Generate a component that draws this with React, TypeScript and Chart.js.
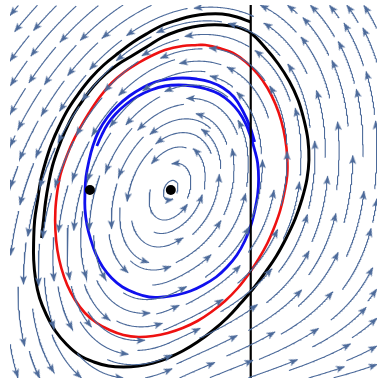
import React, { useEffect, useRef } from "react";
import { Chart, registerables } from "chart.js";

Chart.register(...registerables);

// plot window (data units)
const X_MIN = -1.63;
const X_MAX = 2.09;
const Y_MIN = -1.88;
const Y_MAX = 1.85;
const SWITCH_X = 0.81;

// vector field coefficients: x' = A_U x + A_V y + A_R2 (x^2+y^2), y' = B_U x + B_V y + B_UV max(x,0) min(y,0)
const A_U = 0.41;
const A_V = -1.0;
const A_R2 = -0.1;
const B_U = 1.75;
const B_V = -0.385;
const B_UV = 1.0;

// highlighted trajectories
const BLACK_X = [0.81, 0.67, 0.52, 0.37, 0.22, 0.07, -0.08, -0.23, -0.38, -0.53, -0.68, -0.81, -0.93, -1.04, -1.13, -1.21, -1.27, -1.32, -1.35, -1.38, -1.39, -1.39, -1.37, -1.33, -1.26, -1.17, -1.06, -0.93, -0.78, -0.63, -0.48, -0.33, -0.18, -0.03, 0.12, 0.27, 0.42, 0.57, 0.71, 0.84, 0.96, 1.07, 1.17, 1.26, 1.33, 1.38, 1.40, 1.39, 1.35, 1.29, 1.20, 1.09, 0.96, 0.81, 0.67, 0.52, 0.37, 0.22, 0.07, -0.08, -0.23, -0.38, -0.53, -0.66, -0.78, -0.89, -0.99, -1.07, -1.14, -1.20, -1.24, -1.27, -1.29, -1.31];
const BLACK_Y = [1.68, 1.73, 1.76, 1.76, 1.74, 1.70, 1.65, 1.57, 1.48, 1.37, 1.25, 1.12, 0.97, 0.81, 0.64, 0.46, 0.28, 0.09, -0.10, -0.30, -0.50, -0.70, -0.90, -1.08, -1.25, -1.41, -1.54, -1.65, -1.72, -1.76, -1.77, -1.76, -1.73, -1.68, -1.61, -1.52, -1.41, -1.28, -1.13, -0.98, -0.82, -0.66, -0.48, -0.29, -0.09, 0.11, 0.30, 0.50, 0.70, 0.90, 1.09, 1.26, 1.42, 1.57, 1.63, 1.65, 1.65, 1.63, 1.59, 1.53, 1.44, 1.35, 1.26, 1.16, 1.04, 0.90, 0.75, 0.59, 0.42, 0.24, 0.06, -0.12, -0.30, -0.48];

const RED_X = [0.27, 0.12, -0.06, -0.20, -0.33, -0.47, -0.60, -0.72, -0.83, -0.92, -1.00, -1.07, -1.12, -1.15, -1.17, -1.17, -1.15, -1.11, -1.05, -0.97, -0.87, -0.75, -0.62, -0.48, -0.33, -0.18, -0.03, 0.12, 0.27, 0.41, 0.55, 0.68, 0.79, 0.89, 0.98, 1.05, 1.11, 1.15, 1.18, 1.18, 1.16, 1.12, 1.06, 0.98, 0.88, 0.76, 0.63, 0.49, 0.35, 0.27];
const RED_Y = [1.45, 1.44, 1.40, 1.34, 1.27, 1.18, 1.07, 0.93, 0.77, 0.62, 0.47, 0.30, 0.15, -0.01, -0.20, -0.40, -0.60, -0.78, -0.95, -1.10, -1.23, -1.33, -1.40, -1.45, -1.47, -1.46, -1.43, -1.38, -1.31, -1.22, -1.11, -0.98, -0.84, -0.69, -0.53, -0.37, -0.20, -0.03, 0.15, 0.33, 0.51, 0.69, 0.86, 1.02, 1.16, 1.28, 1.37, 1.42, 1.45, 1.45];

const BLUE_X = [0.85, 0.80, 0.73, 0.64, 0.53, 0.40, 0.26, 0.12, -0.02, -0.16, -0.29, -0.42, -0.54, -0.64, -0.73, -0.79, -0.83, -0.86, -0.87, -0.87, -0.85, -0.81, -0.76, -0.69, -0.60, -0.49, -0.36, -0.22, -0.08, 0.06, 0.20, 0.33, 0.46, 0.57, 0.67, 0.75, 0.81, 0.85, 0.88, 0.89, 0.88, 0.85, 0.81, 0.76, 0.69, 0.60, 0.49, 0.36, 0.22, 0.08, -0.06, -0.20, -0.33, -0.45, -0.56, -0.64, -0.70, -0.75];
const BLUE_Y = [0.48, 0.64, 0.79, 0.93, 1.02, 1.08, 1.11, 1.12, 1.11, 1.08, 1.02, 0.94, 0.84, 0.73, 0.59, 0.44, 0.29, 0.13, -0.03, -0.19, -0.35, -0.50, -0.64, -0.77, -0.88, -0.97, -1.03, -1.07, -1.07, -1.05, -1.01, -0.95, -0.87, -0.77, -0.65, -0.51, -0.36, -0.21, -0.05, 0.11, 0.27, 0.40, 0.53, 0.66, 0.78, 0.88, 0.96, 1.01, 1.04, 1.05, 1.04, 1.00, 0.94, 0.86, 0.76, 0.66, 0.55, 0.44];

const DOT_X = [-0.82, 0.0];
const DOT_Y = [0.0, 0.0];

// stream layout settings
const STREAM_SEP = 0.14;
const STREAM_TEST = 0.06;
const STREAM_STEP = 0.01;
const STREAM_HALF_LEN = 0.34;
const STREAM_COLOR = "#4c6a9a";

function field(u: number, v: number): [number, number] {
  const p = A_U * u + A_V * v + A_R2 * (u * u + v * v);
  const q = B_U * u + B_V * v + B_UV * Math.max(u, 0) * Math.min(v, 0);
  return [p, q];
}

function dir(u: number, v: number): [number, number] | null {
  const [p, q] = field(u, v);
  const m = Math.hypot(p, q);
  if (m < 1e-5) return null;
  return [p / m, q / m];
}

function buildStreams() {
  const cell = STREAM_SEP;
  const grid = new Map<string, number[][]>();
  const ci = (x: number) => Math.floor((x - X_MIN) / cell);
  const cj = (y: number) => Math.floor((y - Y_MIN) / cell);
  const add = (x: number, y: number) => {
    const k = ci(x) + "," + cj(y);
    let a = grid.get(k);
    if (!a) {
      a = [];
      grid.set(k, a);
    }
    a.push([x, y]);
  };
  const near = (x: number, y: number, d: number) => {
    const i0 = ci(x), j0 = cj(y);
    for (let di = -1; di <= 1; di++)
      for (let dj = -1; dj <= 1; dj++) {
        const a = grid.get(i0 + di + "," + (j0 + dj));
        if (!a) continue;
        for (const p of a) {
          const dx = p[0] - x, dy = p[1] - y;
          if (dx * dx + dy * dy < d * d) return true;
        }
      }
    return false;
  };
  const inside = (x: number, y: number) => x >= X_MIN && x <= X_MAX && y >= Y_MIN && y <= Y_MAX;

  const trace = (x0: number, y0: number, sign: number, other: number[][]) => {
    const pts: number[][] = [];
    let x = x0, y = y0;
    const steps = Math.round(STREAM_HALF_LEN / STREAM_STEP);
    const t2 = STREAM_TEST * STREAM_TEST;
    for (let s = 0; s < steps; s++) {
      const d1 = dir(x, y);
      if (!d1) break;
      const d2 = dir(x + sign * d1[0] * STREAM_STEP * 0.5, y + sign * d1[1] * STREAM_STEP * 0.5);
      if (!d2) break;
      const nx = x + sign * d2[0] * STREAM_STEP;
      const ny = y + sign * d2[1] * STREAM_STEP;
      if (!inside(nx, ny)) break;
      if (near(nx, ny, STREAM_TEST)) break;
      let hit = false;
      for (let k = 0; k < pts.length - 20 && !hit; k++) {
        const dx = pts[k][0] - nx, dy = pts[k][1] - ny;
        if (dx * dx + dy * dy < t2) hit = true;
      }
      for (let k = 0; k < other.length && !hit; k++) {
        if (k + s < 20) continue;
        const dx = other[k][0] - nx, dy = other[k][1] - ny;
        if (dx * dx + dy * dy < t2) hit = true;
      }
      if (hit) break;
      pts.push([nx, ny]);
      x = nx;
      y = ny;
    }
    return pts;
  };

  const lines: number[][][] = [];
  const queue: number[][] = [[-1.2, 1.6]];
  const fallback: number[][] = [];
  for (let y = Y_MAX - 0.03; y > Y_MIN; y -= 0.07)
    for (let x = X_MIN + 0.03; x < X_MAX; x += 0.07) fallback.push([x, y]);
  let fi = 0;
  let guard = 0;
  while (guard++ < 20000) {
    let seed: number[] | undefined;
    if (queue.length) seed = queue.shift();
    else if (fi < fallback.length) seed = fallback[fi++];
    else break;
    if (!seed) break;
    const [sx, sy] = seed;
    if (!inside(sx, sy)) continue;
    if (near(sx, sy, STREAM_SEP * 0.98)) continue;
    const back = trace(sx, sy, -1, []);
    const fwd = trace(sx, sy, 1, back);
    const line = back.slice().reverse().concat([[sx, sy]], fwd);
    if (line.length < 6) continue;
    for (const p of line) add(p[0], p[1]);
    lines.push(line);
    for (let k = 2; k < line.length; k += 6) {
      const d = dir(line[k][0], line[k][1]);
      if (!d) continue;
      queue.push([line[k][0] - d[1] * STREAM_SEP, line[k][1] + d[0] * STREAM_SEP]);
      queue.push([line[k][0] + d[1] * STREAM_SEP, line[k][1] - d[0] * STREAM_SEP]);
    }
  }

  const linePts: { x: number; y: number | null }[] = [];
  const arrowPts: { x: number; y: number }[] = [];
  const arrowRot: number[] = [];
  for (const line of lines) {
    for (const p of line) linePts.push({ x: p[0], y: p[1] });
    linePts.push({ x: line[line.length - 1][0], y: null });
    if (line.length >= 7) {
      const a = line[line.length - 5];
      const d = dir(a[0], a[1]);
      if (d) {
        arrowPts.push({ x: a[0], y: a[1] });
        arrowRot.push((Math.atan2(d[0], d[1]) * 180) / Math.PI);
      }
    }
  }
  return { linePts, arrowPts, arrowRot };
}

function makeArrow(color: string) {
  const c = document.createElement("canvas");
  c.width = 7;
  c.height = 9;
  const g = c.getContext("2d")!;
  g.fillStyle = color;
  g.beginPath();
  g.moveTo(3.5, 0);
  g.lineTo(7, 9);
  g.lineTo(3.5, 7);
  g.lineTo(0, 9);
  g.closePath();
  g.fill();
  return c;
}

const zip = (xs: number[], ys: number[]) => xs.map((x, i) => ({ x, y: ys[i] }));

export default function App() {
  const ref = useRef<HTMLCanvasElement | null>(null);
  useEffect(() => {
    if (!ref.current) return;
    const { linePts, arrowPts, arrowRot } = buildStreams();
    const arrowImg = makeArrow(STREAM_COLOR);
    const curve = (xs: number[], ys: number[], color: string, w: number) => ({
      type: "scatter" as const,
      data: zip(xs, ys),
      showLine: true,
      borderColor: color,
      borderWidth: w,
      pointRadius: 0,
      tension: 0.4,
      fill: false,
      order: 10,
    });
    const chart = new Chart(ref.current, {
      type: "scatter",
      data: {
        datasets: [
          curve(BLACK_X, BLACK_Y, "#000000", 3),
          curve(RED_X, RED_Y, "#ee1111", 2.6),
          curve(BLUE_X, BLUE_Y, "#1010ee", 2.8),
          {
            data: [
              { x: SWITCH_X, y: Y_MIN },
              { x: SWITCH_X, y: Y_MAX + 0.02 },
            ],
            showLine: true,
            borderColor: "#000000",
            borderWidth: 2.2,
            pointRadius: 0,
            order: 9,
          },
          {
            data: linePts as any,
            showLine: true,
            borderColor: STREAM_COLOR,
            borderWidth: 1.1,
            pointRadius: 0,
            spanGaps: false,
            order: 5,
          },
          {
            data: arrowPts,
            pointStyle: arrowImg as any,
            rotation: arrowRot as any,
            pointRadius: 3,
            order: 4,
          },
          {
            data: zip(DOT_X, DOT_Y),
            pointRadius: 5,
            backgroundColor: "#000000",
            borderColor: "#000000",
            borderWidth: 0,
            order: 1,
          },
        ] as any,
      },
      options: {
        animation: false,
        responsive: false,
        events: [],
        layout: { padding: { left: 10, top: 5, right: 0, bottom: 5 } },
        plugins: { legend: { display: false }, tooltip: { enabled: false } },
        scales: {
          x: { type: "linear", min: X_MIN, max: X_MAX, display: false },
          y: { type: "linear", min: Y_MIN, max: Y_MAX, display: false },
        },
      },
    });
    return () => chart.destroy();
  }, []);
  return (
    <div style={{ position: "absolute", left: 0, top: 0, width: 382, height: 383, background: "#ffffff" }}>
      <canvas ref={ref} width={382} height={383} style={{ display: "block" }} />
    </div>
  );
}
